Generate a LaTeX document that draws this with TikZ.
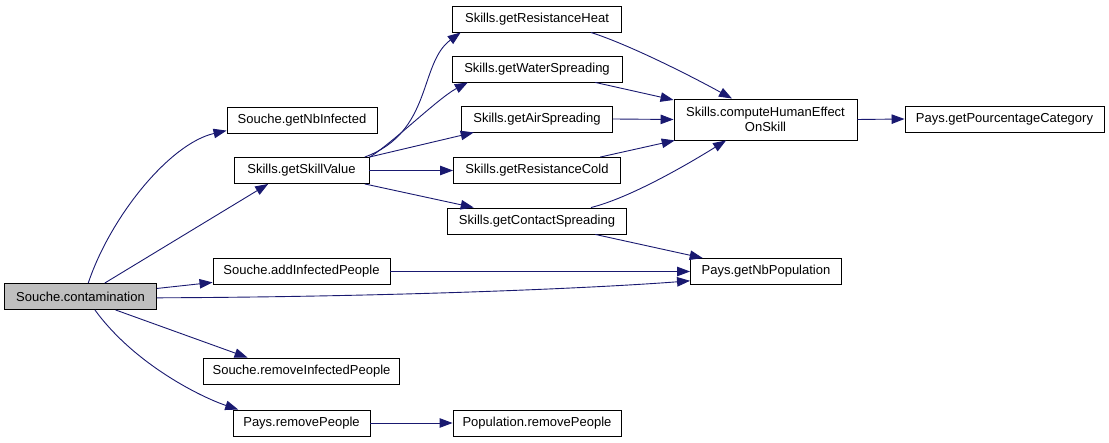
\documentclass[tikz,border=0pt]{standalone}
\usepackage{fontspec}
\setmainfont{Liberation Sans}
\usetikzlibrary{arrows.meta}
\definecolor{edgeblue}{RGB}{25,25,112}
\definecolor{rootgray}{RGB}{191,191,191}
\begin{document}
\begin{tikzpicture}[x=1pt,y=1pt,
    fn/.style={draw=black,line width=0.9pt,fill=white,inner sep=0pt,
        minimum height=26pt,font=\fontsize{13}{15}\selectfont},
    call/.style={draw=edgeblue,line width=0.9pt,
        -{Triangle[length=13pt,width=9.5pt]}}]
    \useasboundingbox (0,0) rectangle (1109,443);
    % functions
    \node[fn,fill=rootgray,minimum width=152pt] (cont) at (80.5,146.5) {Souche.contamination};
    \node[fn,minimum width=150pt] (nbinf) at (302,323) {Souche.getNbInfected};
    \node[fn,minimum width=135pt] (skill) at (301.5,272.5) {Skills.getSkillValue};
    \node[fn,minimum width=177pt] (addinf) at (301.5,171.5) {Souche.addInfectedPeople};
    \node[fn,minimum width=196pt] (reminf) at (301.5,72) {Souche.removeInfectedPeople};
    \node[fn,minimum width=137pt] (payrem) at (301.5,20) {Pays.removePeople};
    \node[fn,minimum width=168pt] (poprem) at (537,20) {Population.removePeople};
    \node[fn,minimum width=169pt] (heat) at (537,424) {Skills.getResistanceHeat};
    \node[fn,minimum width=170pt] (water) at (537,374) {Skills.getWaterSpreading};
    \node[fn,minimum width=151pt] (air) at (537,324) {Skills.getAirSpreading};
    \node[fn,minimum width=167pt] (cold) at (537,272.5) {Skills.getResistanceCold};
    \node[fn,minimum width=179pt] (contact) at (537,222) {Skills.getContactSpreading};
    \node[fn,minimum width=183pt,minimum height=41pt,align=center] (human) at (765.5,323.5) {Skills.computeHumanEffect\\OnSkill};
    \node[fn,minimum width=199pt] (pourc) at (1004.5,324) {Pays.getPourcentageCategory};
    \node[fn,minimum width=151pt] (nbpop) at (766,171.5) {Pays.getNbPopulation};
    % calls from Souche.contamination
    \draw[call] (cont.60) .. controls +(22,66) and +(-57,-13) .. (nbinf.188);
    \draw[call] (cont.29) -- (skill.202);
    \draw[call] (cont.6) -- (addinf.187);
    \draw[call] (cont.359) .. controls +(244,1) and +(-91,-7) .. (nbpop.187);
    \draw[call] (cont.339) -- (reminf.166);
    \draw[call] (cont.317) .. controls +(40,-55) and +(-36,12) .. (payrem.168);
    % calls from Skills.getSkillValue
    \draw[call] (skill.12) .. controls +(68,25) and +(-42,-31) .. (heat.190);
    \draw[call] (skill.11) .. controls +(24,15) and +(-30,-16) .. (water.191);
    \draw[call] (skill.north east) -- (air.192);
    \draw[call] (skill.east) -- (cold.west);
    \draw[call] (skill.348) -- (contact.168);
    % the rest
    \draw[call] (addinf.east) -- (nbpop.west);
    \draw[call] (heat.346) .. controls +(40,-13) and +(-40,22) .. (human.148);
    \draw[call] (water.347) -- (human.168);
    \draw[call] (air.east) -- (human.west);
    \draw[call] (cold.12) -- (human.193);
    \draw[call] (contact.14) .. controls +(40,10) and +(-37,-23) .. (human.208);
    \draw[call] (contact.347) -- (nbpop.168);
    \draw[call] (human.east) -- (pourc.west);
    \draw[call] (payrem.east) -- (poprem.west);
\end{tikzpicture}
\end{document}
